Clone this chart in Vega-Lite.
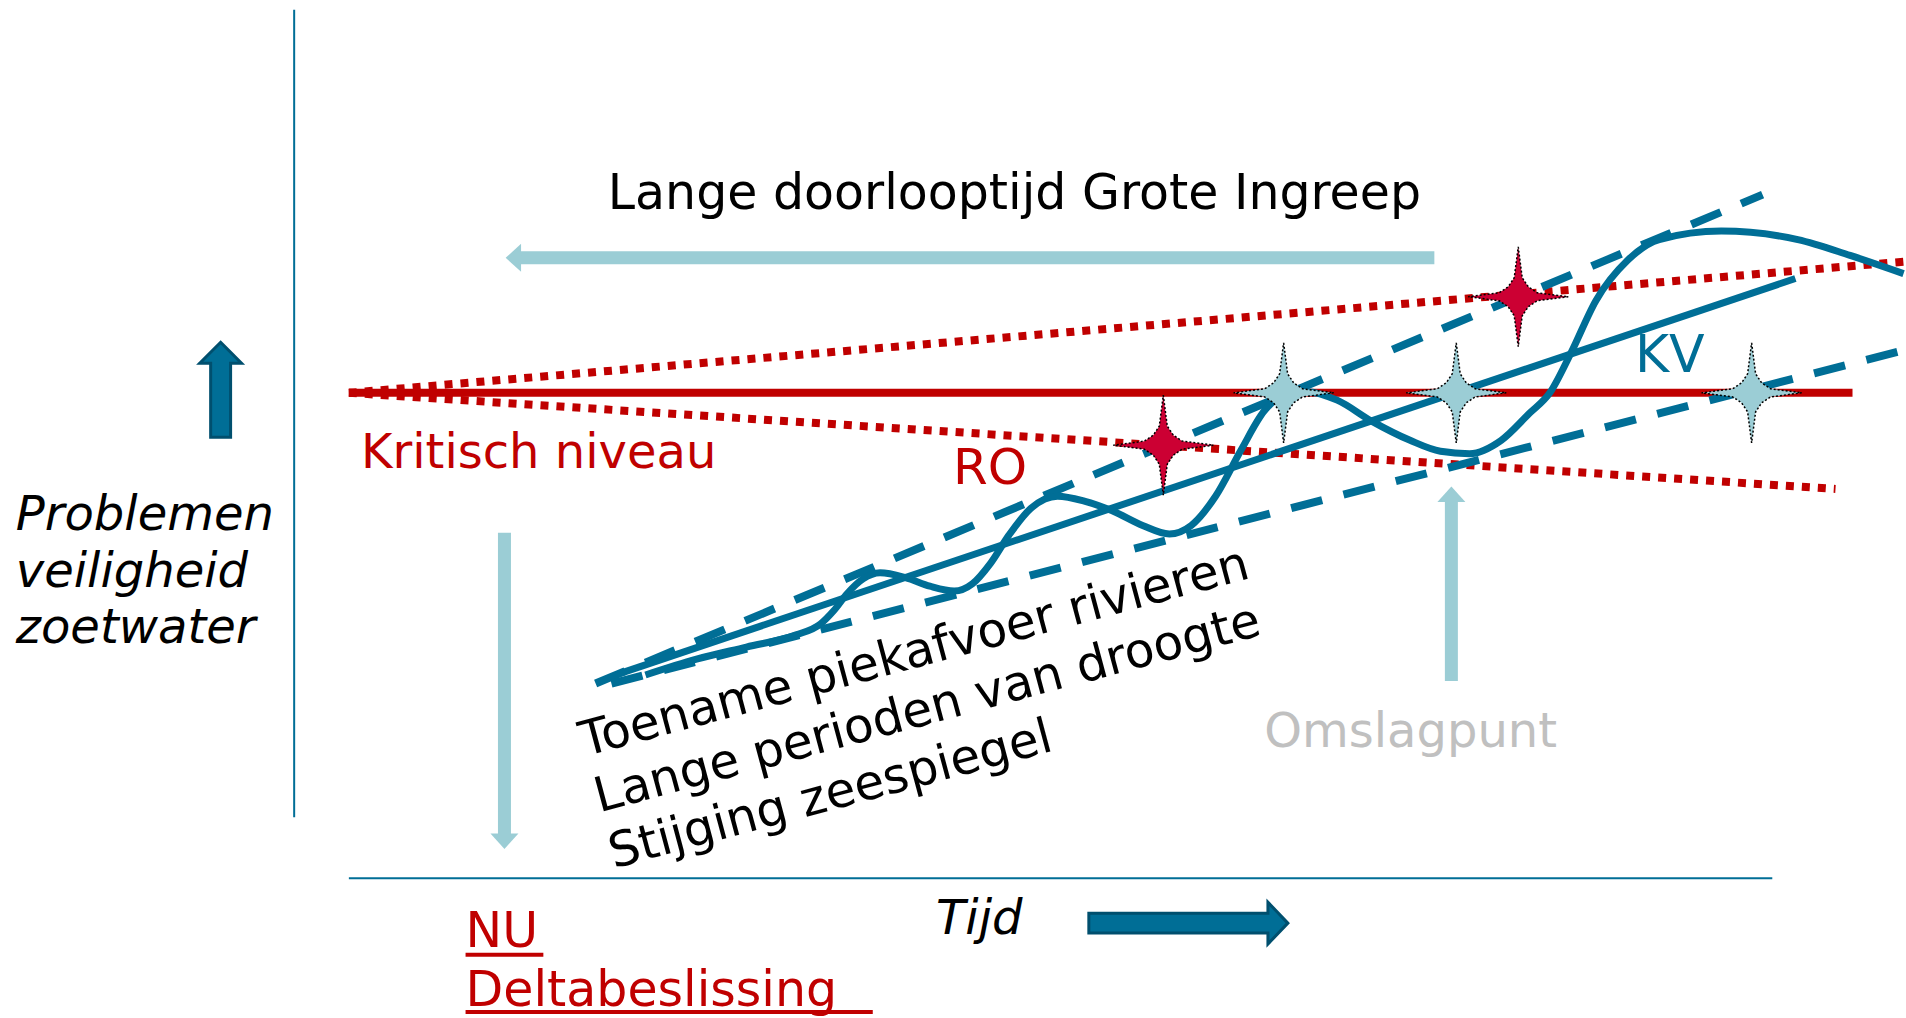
{
  "$schema": "https://vega.github.io/schema/vega-lite/v6.json",
  "width": 1906,
  "height": 1018,
  "padding": 0,
  "autosize": {"type": "none"},
  "background": "white",
  "config": {"view": {"stroke": null}},
  "datasets": {
    "axes": [{"x": 242, "y": 8, "x2": 242, "y2": 672}, {"x": 287, "y": 722, "x2": 1458, "y2": 722}],
    "redSolid": [{"x": 287, "y": 323, "x2": 1524, "y2": 323}],
    "redDotted": [{"x": 287, "y": 323, "x2": 1568, "y2": 215}, {"x": 287, "y": 323, "x2": 1510, "y2": 402}],
    "blueDashed": [{"x": 490, "y": 562, "x2": 1450, "y2": 160}, {"x": 503, "y": 562, "x2": 1566, "y2": 288}],
    "blueSolid": [{"x": 512, "y": 553, "x2": 1477, "y2": 229}],
    "wave": [
      {"x": 531, "y": 555}, {"x": 573, "y": 542}, {"x": 614, "y": 532}, {"x": 655, "y": 522}, {"x": 675, "y": 513},
      {"x": 686, "y": 502}, {"x": 697, "y": 488}, {"x": 710, "y": 476}, {"x": 724, "y": 471}, {"x": 745, "y": 475},
      {"x": 765, "y": 482}, {"x": 785, "y": 486}, {"x": 800, "y": 480}, {"x": 815, "y": 463}, {"x": 830, "y": 440},
      {"x": 848, "y": 418}, {"x": 870, "y": 408}, {"x": 892, "y": 412}, {"x": 915, "y": 420}, {"x": 940, "y": 432},
      {"x": 962, "y": 439}, {"x": 980, "y": 432}, {"x": 1000, "y": 408}, {"x": 1021, "y": 370}, {"x": 1040, "y": 338},
      {"x": 1058, "y": 324}, {"x": 1075, "y": 322}, {"x": 1100, "y": 329}, {"x": 1128, "y": 346}, {"x": 1160, "y": 362},
      {"x": 1185, "y": 371}, {"x": 1209, "y": 373}, {"x": 1235, "y": 362}, {"x": 1258, "y": 340}, {"x": 1275, "y": 323},
      {"x": 1292, "y": 291}, {"x": 1313, "y": 247}, {"x": 1339, "y": 214}, {"x": 1365, "y": 197}, {"x": 1416, "y": 190},
      {"x": 1479, "y": 197}, {"x": 1522, "y": 210}, {"x": 1566, "y": 225}
    ],
    "lightBodies": [{"x": 1180, "y": 212, "x2": 428, "y2": 212}, {"x": 415, "y": 438, "x2": 415, "y2": 686}, {"x": 1194, "y": 560, "x2": 1194, "y2": 412}],
    "lightHeads": [{"x": 416, "y": 212, "dir": "left"}, {"x": 415, "y": 698, "dir": "down"}, {"x": 1194, "y": 400, "dir": "up"}],
    "upArrow": [{"x": 181.5, "y": 320.5}],
    "rightArrow": [{"x": 977.6, "y": 759}],
    "stars": [
      {"x": 957, "y": 366, "kind": "red"}, {"x": 1249, "y": 244, "kind": "red"},
      {"x": 1056, "y": 323, "kind": "light"}, {"x": 1198, "y": 323, "kind": "light"}, {"x": 1441, "y": 323, "kind": "light"}
    ],
    "textBlack": [{"x": 500, "y": 172, "text": "Lange doorlooptijd Grote Ingreep"}],
    "textRed": [{"x": 297, "y": 385, "text": "Kritisch niveau"}],
    "textRO": [{"x": 784, "y": 398, "text": "RO"}],
    "textBlue": [{"x": 1345, "y": 306, "text": "KV"}],
    "textGrey": [{"x": 1040, "y": 614, "text": "Omslagpunt"}],
    "textItalic": [
      {"x": 13, "y": 436, "text": "Problemen"}, {"x": 13, "y": 483, "text": "veiligheid"},
      {"x": 13, "y": 529, "text": "zoetwater"}, {"x": 770, "y": 768, "text": "Tijd"}
    ],
    "textUnder": [{"x": 383, "y": 779, "text": "NU"}, {"x": 383, "y": 827, "text": "Deltabeslissing"}],
    "underlines": [{"x": 383, "y": 785, "x2": 447, "y2": 785}, {"x": 383, "y": 832, "x2": 718, "y2": 832}],
    "textRot": [
      {"x": 481, "y": 622, "text": "Toename piekafvoer rivieren"},
      {"x": 493, "y": 668, "text": "Lange perioden van droogte"},
      {"x": 505, "y": 714, "text": "Stijging zeespiegel"}
    ]
  },
  "encoding": {
    "x": {"field": "x", "type": "quantitative", "scale": {"domain": [0, 1568], "nice": false, "zero": false}, "axis": null},
    "y": {"field": "y", "type": "quantitative", "scale": {"domain": [0, 837], "reverse": true, "nice": false, "zero": false}, "axis": null}
  },
  "layer": [
    {
      "data": {"name": "axes"},
      "mark": {"type": "rule", "color": "#006E96", "strokeWidth": 2},
      "encoding": {"x2": {"field": "x2"}, "y2": {"field": "y2"}}
    },
    {
      "data": {"name": "lightBodies"},
      "mark": {"type": "rule", "color": "#9BCDD5", "strokeWidth": 13},
      "encoding": {"x2": {"field": "x2"}, "y2": {"field": "y2"}}
    },
    {
      "data": {"name": "lightHeads"},
      "mark": {"type": "point", "filled": true, "opacity": 1, "size": 784, "color": "#9BCDD5"},
      "encoding": {
        "shape": {"field": "dir", "type": "nominal", "legend": null,
          "scale": {"domain": ["left", "down", "up"], "range": ["M0,0L1.1,-1L1.1,1Z", "M0,0L-1,-1.1L1,-1.1Z", "M0,0L-1,1.1L1,1.1Z"]}}
      }
    },
    {
      "data": {"name": "redSolid"},
      "mark": {"type": "rule", "color": "#C00000", "strokeWidth": 8},
      "encoding": {"x2": {"field": "x2"}, "y2": {"field": "y2"}}
    },
    {
      "data": {"name": "redDotted"},
      "mark": {"type": "rule", "color": "#C00000", "strokeWidth": 8, "strokeDash": [8, 8], "strokeCap": "butt"},
      "encoding": {"x2": {"field": "x2"}, "y2": {"field": "y2"}}
    },
    {
      "data": {"name": "blueDashed"},
      "mark": {"type": "rule", "color": "#006E96", "strokeWidth": 8, "strokeDash": [32, 22], "strokeCap": "butt"},
      "encoding": {"x2": {"field": "x2"}, "y2": {"field": "y2"}}
    },
    {
      "data": {"name": "blueSolid"},
      "mark": {"type": "rule", "color": "#006E96", "strokeWidth": 7},
      "encoding": {"x2": {"field": "x2"}, "y2": {"field": "y2"}}
    },
    {
      "data": {"name": "wave"},
      "mark": {"type": "line", "color": "#006E96", "strokeWidth": 7, "interpolate": "monotone"},
      "encoding": {"order": {"field": "x", "type": "quantitative"}}
    },
    {
      "data": {"name": "stars"},
      "mark": {"type": "point", "filled": true, "opacity": 1, "size": 10000, "stroke": "black", "strokeWidth": 1.5, "strokeDash": [2, 2],
        "shape": "M0,-1L0.08,-0.38L0.2,-0.2L0.38,-0.08L1,0L0.38,0.08L0.2,0.2L0.08,0.38L0,1L-0.08,0.38L-0.2,0.2L-0.38,0.08L-1,0L-0.38,-0.08L-0.2,-0.2L-0.08,-0.38Z"},
      "encoding": {
        "fill": {"field": "kind", "type": "nominal", "legend": null, "scale": {"domain": ["red", "light"], "range": ["#CC0033", "#9BCDD5"]}}
      }
    },
    {
      "data": {"name": "upArrow"},
      "mark": {"type": "point", "filled": true, "opacity": 1, "size": 9025, "fill": "#006E96", "stroke": "#004F6E", "strokeWidth": 3,
        "shape": "M0,-1L0.44,-0.56L0.21,-0.56L0.21,1L-0.21,1L-0.21,-0.56L-0.44,-0.56Z"}
    },
    {
      "data": {"name": "rightArrow"},
      "mark": {"type": "point", "filled": true, "opacity": 1, "size": 39600, "fill": "#006E96", "stroke": "#004F6E", "strokeWidth": 3,
        "shape": "M1,0L0.8,-0.21L0.8,-0.1L-1,-0.1L-1,0.1L0.8,0.1L0.8,0.21Z"}
    },
    {
      "data": {"name": "textBlack"},
      "mark": {"type": "text", "font": "DejaVu Sans", "fontSize": 49, "color": "black", "align": "left", "baseline": "alphabetic"},
      "encoding": {"text": {"field": "text"}}
    },
    {
      "data": {"name": "textRed"},
      "mark": {"type": "text", "font": "DejaVu Sans", "fontSize": 48, "color": "#C00000", "align": "left", "baseline": "alphabetic"},
      "encoding": {"text": {"field": "text"}}
    },
    {
      "data": {"name": "textRO"},
      "mark": {"type": "text", "font": "DejaVu Sans", "fontSize": 50, "color": "#C00000", "align": "left", "baseline": "alphabetic"},
      "encoding": {"text": {"field": "text"}}
    },
    {
      "data": {"name": "textBlue"},
      "mark": {"type": "text", "font": "DejaVu Sans", "fontSize": 52, "color": "#006E96", "align": "left", "baseline": "alphabetic"},
      "encoding": {"text": {"field": "text"}}
    },
    {
      "data": {"name": "textGrey"},
      "mark": {"type": "text", "font": "DejaVu Sans", "fontSize": 48, "color": "#C0C0C0", "align": "left", "baseline": "alphabetic"},
      "encoding": {"text": {"field": "text"}}
    },
    {
      "data": {"name": "textItalic"},
      "mark": {"type": "text", "font": "DejaVu Sans", "fontSize": 48, "fontStyle": "italic", "color": "black", "align": "left", "baseline": "alphabetic"},
      "encoding": {"text": {"field": "text"}}
    },
    {
      "data": {"name": "textUnder"},
      "mark": {"type": "text", "font": "DejaVu Sans", "fontSize": 49, "color": "#C00000", "align": "left", "baseline": "alphabetic"},
      "encoding": {"text": {"field": "text"}}
    },
    {
      "data": {"name": "underlines"},
      "mark": {"type": "rule", "color": "#C00000", "strokeWidth": 4},
      "encoding": {"x2": {"field": "x2"}, "y2": {"field": "y2"}}
    },
    {
      "data": {"name": "textRot"},
      "mark": {"type": "text", "font": "DejaVu Sans", "fontSize": 48.5, "color": "black", "align": "left", "baseline": "alphabetic", "angle": 345},
      "encoding": {"text": {"field": "text"}}
    }
  ]
}
